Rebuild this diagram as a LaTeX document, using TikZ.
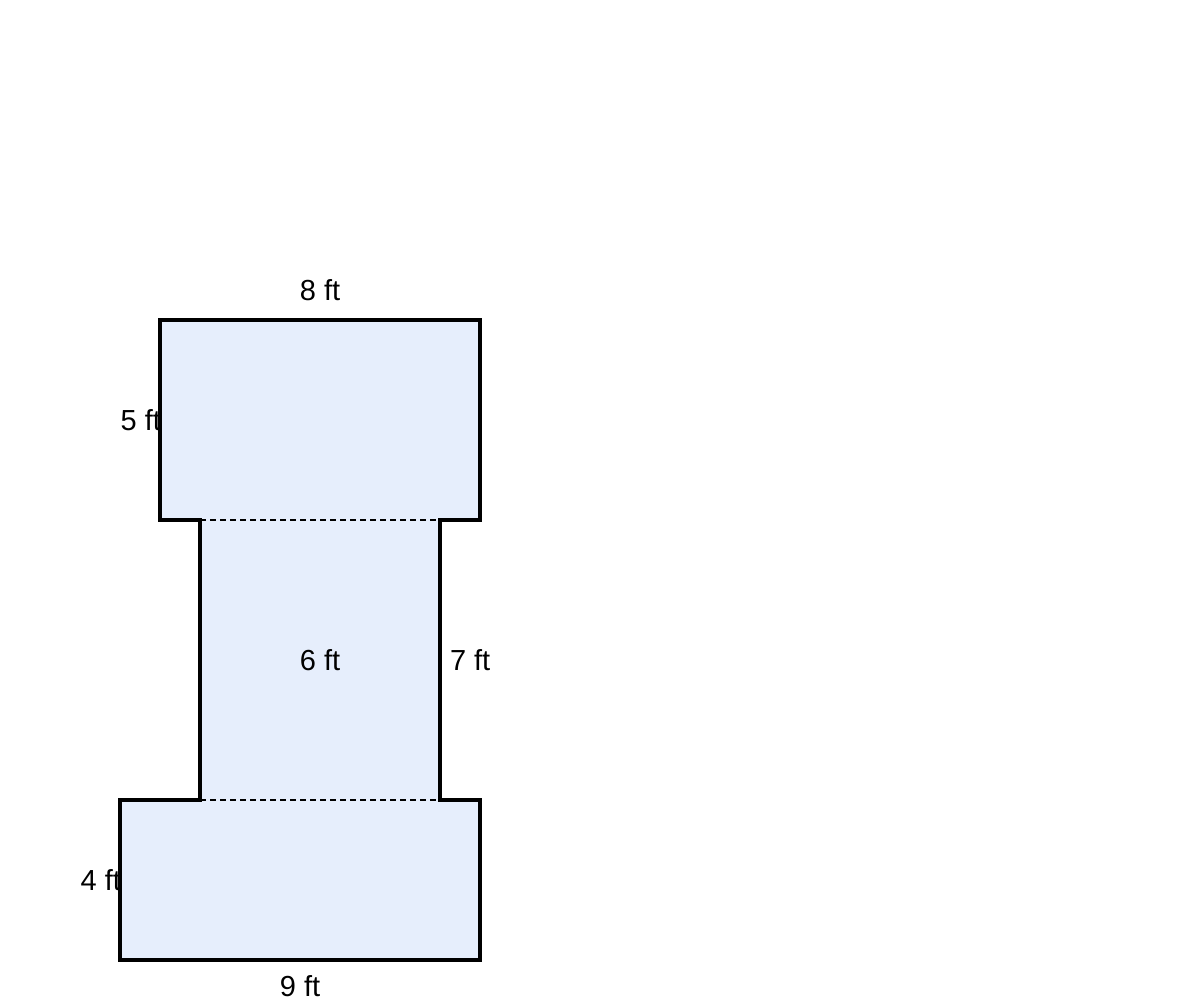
\documentclass[tikz,border=0pt]{standalone}
\usepackage{fontspec}
\setmainfont{Liberation Sans}
\usepackage{xcolor}
\usepackage{tikz}
\definecolor{planfill}{RGB}{230,238,252}
\tikzset{
outline/.style = {draw=black, line width=1.75pt, fill=planfill, line join=miter},
seam/.style = {draw=black, line width=0.75pt, dash pattern=on 3pt off 2pt}
}
\tikzset{
dim/.style = {inner sep=0pt, outer sep=0pt, font=\fontsize{14.5}{16}\selectfont}
}

\begin{document}
\begin{tikzpicture}[x=0.5pt,y=-0.5pt]
    \useasboundingbox (0,0) rectangle (1200,1000);

    \draw[outline] (160,320) -- (480,320) -- (480,520) -- (440,520) -- (440,800)
        -- (480,800) -- (480,960) -- (120,960) -- (120,800) -- (200,800)
        -- (200,520) -- (160,520) -- cycle;
    \draw[seam] (200,520) -- (440,520);
    \draw[seam] (200,800) -- (440,800);

    \node[dim] (topW) at (320,290) {8 ft};
    \node[dim, anchor=east] (topH) at (161,420) {5 ft};
    \node[dim] (midW) at (320,660) {6 ft};
    \node[dim, anchor=west] (midH) at (450,660) {7 ft};
    \node[dim, anchor=east] (botH) at (121,880) {4 ft};
    \node[dim, anchor=base] (botW) at (300,996) {9 ft};
\end{tikzpicture}
\end{document}
